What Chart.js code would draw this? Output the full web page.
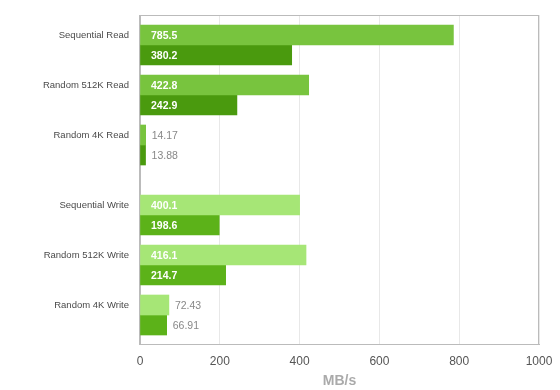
<!DOCTYPE html>
<html>
<head>
<meta charset="utf-8">
<script src="https://cdn.jsdelivr.net/npm/chart.js@4/dist/chart.umd.min.js"></script>
<style>
  html, body { margin: 0; padding: 0; background: #fff; }
  #wrap { width: 560px; height: 390px; }
</style>
</head>
<body>
<div id="wrap"><canvas id="speedChart"></canvas></div>
<script>
// Read group and write group, drawn as two sets of bars with a gap between them
var readLabels = ['Sequential Read', 'Random 512K Read', 'Random 4K Read'];
var writeLabels = ['Sequential Write', 'Random 512K Write', 'Random 4K Write'];
var readFirst = [785.5, 422.8, 14.17];
var readSecond = [380.2, 242.9, 13.88];
var writeFirst = [400.1, 416.1, 72.43];
var writeSecond = [198.6, 214.7, 66.91];
var xTicks = [0, 200, 400, 600, 800, 1000];

var groupGap = 0.4;
var allLabels = readLabels.concat(writeLabels);
var slots = allLabels.map(function (l, i) { return i < readLabels.length ? i : i + groupGap; });

function pts(values) {
    return values.map(function (v, i) { return { x: v, y: slots[i] }; });
}
function groupColors(readCol, writeCol) {
    return allLabels.map(function (l, i) { return i < readLabels.length ? readCol : writeCol; });
}

// value labels: white inside long bars, grey after short ones
var valueLabels = {
    id: 'valueLabels',
    afterDatasetsDraw: function (chart) {
        var ctx = chart.ctx;
        ctx.save();
        ctx.textBaseline = 'middle';
        chart.data.datasets.forEach(function (ds, di) {
            var meta = chart.getDatasetMeta(di);
            meta.data.forEach(function (bar, i) {
                var v = ds.data[i].x;
                var txt = String(v);
                if (v > 100) {
                    ctx.font = 'bold 10.5px "Liberation Sans", Arial, sans-serif';
                    ctx.fillStyle = '#ffffff';
                    ctx.fillText(txt, chart.chartArea.left + 11, bar.y + 1);
                } else {
                    ctx.font = '10.5px "Liberation Sans", Arial, sans-serif';
                    ctx.fillStyle = '#888888';
                    ctx.fillText(txt, bar.x + 6, bar.y + 1);
                }
            });
        });
        ctx.restore();
    }
};

// grey box round the plot area
var plotBox = {
    id: 'plotBox',
    beforeDatasetsDraw: function (chart) {
        var a = chart.chartArea;
        var ctx = chart.ctx;
        ctx.save();
        ctx.strokeStyle = '#bbbbbb';
        ctx.lineWidth = 1;
        ctx.strokeRect(Math.round(a.left) - 0.5, Math.round(a.top) + 0.5, Math.round(a.right - a.left), Math.round(a.bottom - a.top));
        ctx.restore();
    }
};

new Chart(document.getElementById('speedChart').getContext('2d'), {
    type: 'bar',
    data: {
        datasets: [
            { data: pts(readFirst.concat(writeFirst)), backgroundColor: groupColors('#78c43e', '#a6e676') },
            { data: pts(readSecond.concat(writeSecond)), backgroundColor: groupColors('#4a9a0e', '#5cb219') }
        ]
    },
    options: {
        indexAxis: 'y',
        responsive: true,
        maintainAspectRatio: false,
        animation: false,
        barThickness: 20,
        layout: { padding: { top: 15, right: 21, left: 0, bottom: 0 } },
        plugins: { legend: { display: false }, tooltip: { enabled: false } },
        scales: {
            x: {
                min: 0,
                max: 1000,
                afterBuildTicks: function (scale) {
                    scale.ticks = xTicks.map(function (v) { return { value: v }; });
                },
                afterFit: function (scale) {
                    scale.height = 46;
                    scale.paddingLeft = 0;
                    scale.paddingRight = 0;
                },
                grid: { color: '#e8e8e8', drawTicks: false },
                border: { color: '#bbbbbb' },
                ticks: {
                    padding: 10,
                    color: '#555555',
                    font: { family: '"Liberation Sans", Arial, sans-serif', size: 12 },
                    callback: function (value) { return String(value); }
                },
                title: {
                    display: true,
                    text: 'MB/s',
                    color: '#aaaaaa',
                    padding: { top: 0, bottom: 0 },
                    font: { family: '"Liberation Sans", Arial, sans-serif', size: 14, weight: 'bold' }
                }
            },
            y: {
                type: 'linear',
                reverse: true,
                offset: false,
                min: -0.6,
                max: 5.98,
                afterBuildTicks: function (scale) {
                    scale.ticks = slots.map(function (v) { return { value: v }; });
                },
                afterFit: function (scale) {
                    scale.width = 140;
                    scale.paddingTop = 0;
                    scale.paddingBottom = 0;
                },
                grid: { display: false, drawTicks: false },
                border: { color: '#bbbbbb' },
                ticks: {
                    padding: 11,
                    labelOffset: -10,
                    color: '#4a4a4a',
                    font: { family: '"Liberation Sans", Arial, sans-serif', size: 9.5 },
                    callback: function (value, index) { return allLabels[index]; }
                }
            }
        }
    },
    plugins: [plotBox, valueLabels]
});
</script>
</body>
</html>
